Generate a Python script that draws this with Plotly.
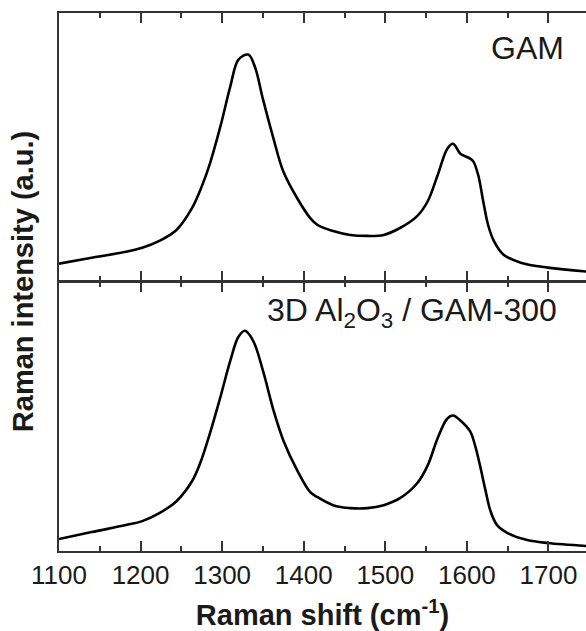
import plotly.graph_objects as go

# GAM (top panel) - Raman shift (cm^-1) and intensity (a.u.)
gam_shift = [1100, 1140, 1182, 1202, 1223, 1244, 1263, 1275, 1285, 1298, 1310, 1320,
             1332, 1340, 1350, 1363, 1375, 1392, 1408, 1417, 1436, 1457, 1478, 1498,
             1518, 1539, 1552, 1564, 1576, 1583, 1592, 1604, 1608, 1614, 1620, 1626,
             1633, 1645, 1666, 1699, 1747]
gam_int = [17, 23, 29, 33, 40, 51, 73, 95, 118, 156, 196, 223,
           228, 216, 183, 143, 110, 83, 63, 56, 50, 46, 45, 46,
           53, 65, 80, 106, 133, 138, 128, 123, 120, 106, 80, 56,
           40, 26, 18, 13, 9]

# 3D Al2O3 / GAM-300 (bottom panel)
al_shift = [1100, 1140, 1182, 1202, 1223, 1244, 1263, 1273, 1285, 1298, 1310, 1320,
            1328, 1338, 1350, 1363, 1375, 1392, 1408, 1417, 1436, 1457, 1478, 1498,
            1518, 1539, 1552, 1564, 1576, 1583, 1592, 1604, 1610, 1616, 1623, 1629,
            1637, 1650, 1674, 1699, 1747]
al_int = [12, 19, 26, 30, 38, 50, 70, 88, 118, 155, 191, 215,
          221, 211, 181, 141, 111, 81, 59, 54, 46, 43, 43, 46,
          53, 68, 86, 113, 133, 136, 131, 120, 106, 86, 60, 40,
          26, 18, 11, 8, 5]

x_ticks = [1100, 1200, 1300, 1400, 1500, 1600, 1700]

AXC = "#333333"
TXT = "#1a1a1a"
FONT = "Liberation Sans, Arial, sans-serif"
LW = 1.5
PLOT_H = 540

fig = go.Figure()
fig.add_trace(go.Scatter(x=al_shift, y=al_int, mode="lines", xaxis="x", yaxis="y",
                         line=dict(color="black", width=2.6, shape="spline", smoothing=1.0),
                         showlegend=False))
fig.add_trace(go.Scatter(x=gam_shift, y=gam_int, mode="lines", xaxis="x2", yaxis="y2",
                         line=dict(color="black", width=2.6, shape="spline", smoothing=1.0),
                         showlegend=False))

xcommon = dict(range=[1100, 1746], tickvals=x_ticks, ticks="inside", ticklen=10,
               tickwidth=LW, tickcolor=AXC, showline=True, linecolor=AXC, linewidth=LW,
               mirror="ticks", showgrid=False, zeroline=False,
               minor=dict(dtick=50, tick0=1100, ticks="inside", ticklen=5,
                          tickwidth=LW, tickcolor=AXC, showgrid=False))

fig.update_layout(
    width=586, height=631,
    margin=dict(l=59, r=0, t=13, b=78),
    paper_bgcolor="white", plot_bgcolor="white",
    font=dict(family=FONT, color=TXT),
    xaxis=dict(**xcommon, anchor="y", showticklabels=True,
               tickfont=dict(size=26, family=FONT, color=TXT),
               title=dict(text="<b>Raman shift (cm<sup>-1</sup>)</b>",
                          font=dict(size=29, family=FONT, color=TXT), standoff=21)),
    xaxis2=dict(**xcommon, anchor="y2", matches="x", showticklabels=False),
    yaxis=dict(domain=[0, 0.5], range=[0, 270], showticklabels=False, ticks="",
               showline=True, linecolor=AXC, linewidth=LW, showgrid=False, zeroline=False),
    yaxis2=dict(domain=[0.5 + LW / PLOT_H, 1], range=[0, 270], showticklabels=False, ticks="",
                showline=True, linecolor=AXC, linewidth=LW, showgrid=False, zeroline=False),
    annotations=[
        dict(text="<b>Raman intensity (a.u.)</b>", xref="paper", yref="paper",
             x=-0.068, y=0.5, xanchor="center", yanchor="middle", textangle=-90,
             showarrow=False, font=dict(size=29, family=FONT, color=TXT)),
        dict(text="GAM", xref="x2", yref="paper", x=1674, y=0.935,
             xanchor="center", yanchor="middle", showarrow=False,
             font=dict(size=32, family=FONT, color=TXT)),
        dict(text="3D Al<sub>2</sub>O<sub>3</sub> / GAM-300", xref="x", yref="paper",
             x=1352, y=0.444, xanchor="left", yanchor="middle", showarrow=False,
             font=dict(size=32, family=FONT, color=TXT)),
    ],
)

fig.write_html(
    "out.html",
    config={"displayModeBar": False},
    post_script="document.body.style.margin='0';document.body.style.overflow='hidden';",
)
